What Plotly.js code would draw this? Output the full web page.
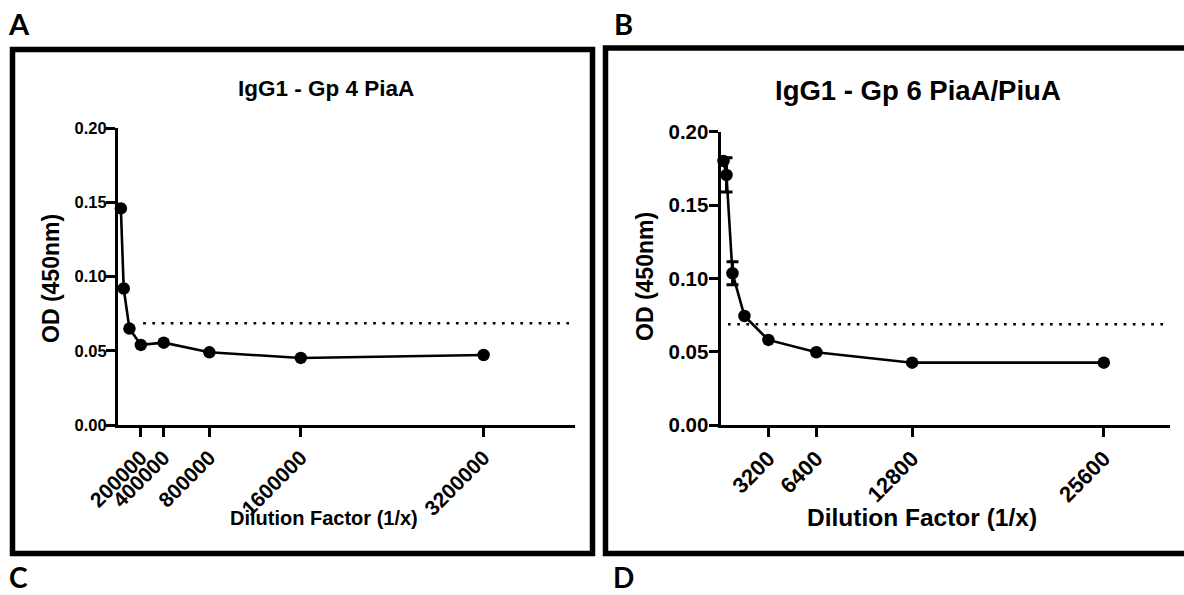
<!DOCTYPE html>
<html>
<head>
<meta charset="utf-8">
<script src="https://cdn.plot.ly/plotly-3.0.1.min.js"></script>
<style>
html,body{margin:0;padding:0;background:#fff;}
#chart{width:1184px;height:595px;}
</style>
</head>
<body>
<div id="chart"></div>
<script>
// ---------- Panel A data: IgG1 - Gp 4 PiaA ----------
const aDilution = [25000, 50000, 100000, 200000, 400000, 800000, 1600000, 3200000];
const aOD = [0.146, 0.092, 0.065, 0.054, 0.0555, 0.049, 0.0452, 0.0472];
const aTickVals = [200000, 400000, 800000, 1600000, 3200000];
const aTickText = ["200000", "400000", "800000", "1600000", "3200000"];
const aCutoff = 0.0686;
const aCutoffSpan = [220000, 3960000];

// ---------- Panel B data: IgG1 - Gp 6 PiaA/PiuA ----------
const bDilution = [200, 400, 800, 1600, 3200, 6400, 12800, 25600];
const bOD = [0.180, 0.1705, 0.1035, 0.0743, 0.058, 0.0496, 0.0425, 0.0425];
const bErr = [NaN, 0.0117, 0.0079, NaN, NaN, NaN, NaN, NaN];
const bTickVals = [3200, 6400, 12800, 25600];
const bTickText = ["3200", "6400", "12800", "25600"];
const bCutoff = 0.0687;
const bCutoffSpan = [500, 29950];

const yTickVals = [0, 0.05, 0.10, 0.15, 0.20];
const yTickText = ["0.00", "0.05", "0.10", "0.15", "0.20"];
const panelLetters = ["A", "B", "C", "D"];
const titles = ["IgG1 - Gp 4 PiaA", "IgG1 - Gp 6 PiaA/PiuA"];
const xTitle = "Dilution Factor (1/x)";
const yTitle = "OD (450nm)";

const W = 1184, H = 595;
const X = p => p / W;
const Y = p => 1 - p / H;
const ARIAL = "'Liberation Sans', Arial, sans-serif";
const b = s => '<b>' + s + '</b>';

const traces = [
  {x: aCutoffSpan, y: aCutoffSpan.map(() => aCutoff), xaxis: 'x', yaxis: 'y', mode: 'lines',
   line: {color: '#000', width: 2.7, dash: '2.7px,6.5px'}, hoverinfo: 'skip'},
  {x: aDilution, y: aOD, xaxis: 'x', yaxis: 'y', mode: 'lines+markers', cliponaxis: false,
   line: {color: '#000', width: 2.6}, marker: {color: '#000', size: 12.5}},
  {x: bCutoffSpan, y: bCutoffSpan.map(() => bCutoff), xaxis: 'x2', yaxis: 'y2', mode: 'lines',
   line: {color: '#000', width: 2.7, dash: '2.7px,6.5px'}, hoverinfo: 'skip'},
  {x: bDilution, y: bOD, xaxis: 'x2', yaxis: 'y2', mode: 'lines+markers', cliponaxis: false,
   line: {color: '#000', width: 2.6}, marker: {color: '#000', size: 12.5},
   error_y: {type: 'data', array: bErr, visible: true, color: '#000', thickness: 3, width: 6}}
];

function xAxis(dom, range, vals, text, anchor, fs) {
  return {domain: dom, range: range, anchor: anchor, showline: true, linewidth: 3, linecolor: '#000',
    ticks: 'outside', ticklen: 9, tickwidth: 3, tickcolor: '#000', tickmode: 'array',
    tickvals: vals, ticktext: text.map(b), tickangle: -45,
    tickfont: {family: ARIAL, size: fs, color: '#000'},
    showgrid: false, zeroline: false, fixedrange: true};
}
function yAxis(dom, anchor, fs, standoff) {
  return {domain: dom, range: [0, 0.2], anchor: anchor, showline: true, linewidth: 3, linecolor: '#000',
    ticks: 'outside', ticklen: 9, tickwidth: 3, tickcolor: '#000', tickmode: 'array',
    tickvals: yTickVals, ticktext: yTickText.map(b), ticklabelstandoff: standoff,
    tickfont: {family: ARIAL, size: fs, color: '#000'},
    showgrid: false, zeroline: false, fixedrange: true};
}

function ann(text, x, y, size, family, angle) {
  return {text: b(text), x: X(x), y: Y(y), xref: 'paper', yref: 'paper', showarrow: false,
    xanchor: 'center', yanchor: 'middle', textangle: angle || 0,
    font: {family: family || ARIAL, size: size, color: '#000'}};
}

const LETTER = "Lato, 'Open Sans', sans-serif";
const layout = {
  width: W, height: H, margin: {l: 0, r: 0, t: 0, b: 0},
  paper_bgcolor: '#fff', plot_bgcolor: 'rgba(0,0,0,0)', showlegend: false,
  font: {family: ARIAL, color: '#000'},
  xaxis: xAxis([X(118), X(575)], [0, 4000000], aTickVals, aTickText, 'y', 21),
  yaxis: yAxis([Y(425), Y(128.3)], 'x', 16.5, -4),
  xaxis2: xAxis([X(720.5), X(1169.7)], [0, 30000], bTickVals, bTickText, 'y2', 22),
  yaxis2: yAxis([Y(425), Y(131.7)], 'x2', 20.5, -4),
  shapes: [
    {type: 'rect', xref: 'paper', yref: 'paper', x0: X(12.5), x1: X(592.5), y0: Y(553.5), y1: Y(49.5),
     line: {color: '#000', width: 5.5}, fillcolor: 'rgba(0,0,0,0)'},
    {type: 'rect', xref: 'paper', yref: 'paper', x0: X(605.5), x1: X(1200), y0: Y(553.5), y1: Y(48),
     line: {color: '#000', width: 5.5}, fillcolor: 'rgba(0,0,0,0)'}
  ],
  annotations: [
    ann(panelLetters[0], 19, 24, 29, LETTER),
    ann(panelLetters[1], 623.5, 24, 29, LETTER),
    ann(panelLetters[2], 18.5, 577, 28, LETTER),
    ann(panelLetters[3], 624, 577, 28, LETTER),
    ann(titles[0], 326, 88, 22.5),
    ann(titles[1], 918, 90, 27.5),
    ann(xTitle, 323.5, 518, 20),
    ann(xTitle, 922, 517, 24.5),
    ann(yTitle, 51, 279, 23, ARIAL, -90),
    ann(yTitle, 645, 277, 23, ARIAL, -90)
  ]
};

Plotly.newPlot('chart', traces, layout, {staticPlot: true, displayModeBar: false});
</script>
</body>
</html>
